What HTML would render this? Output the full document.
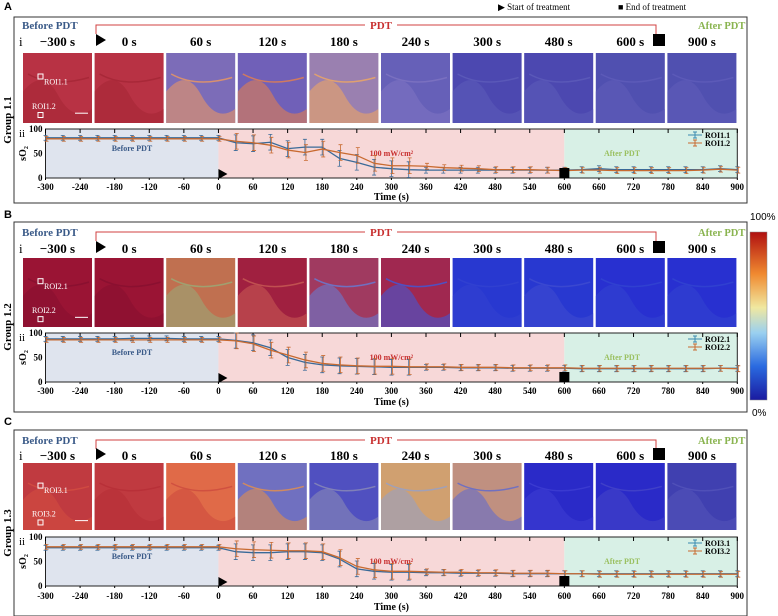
<!DOCTYPE html>
<html><head><meta charset="utf-8"><style>
body{margin:0;background:#fff;width:778px;height:616px;overflow:hidden}
svg{display:block;font-family:"Liberation Serif",serif}
</style></head><body>
<svg id="s" width="778" height="616" viewBox="0 0 778 616" xmlns="http://www.w3.org/2000/svg">
<defs>
<linearGradient id="cb" x1="0" y1="1" x2="0" y2="0">
<stop offset="0" stop-color="#1a1aa0"/><stop offset="0.2" stop-color="#2a6ae0"/><stop offset="0.4" stop-color="#9ad0f0"/><stop offset="0.55" stop-color="#f0e8a0"/><stop offset="0.75" stop-color="#f08a30"/><stop offset="1" stop-color="#b01010"/>
</linearGradient>
</defs>
<g font-family="Liberation Sans,sans-serif" font-size="9" fill="#000">
<text x="4" y="10" font-weight="bold" font-size="11">A</text>
<text x="4" y="218" font-weight="bold" font-size="11">B</text>
<text x="4" y="425" font-weight="bold" font-size="11">C</text>
</g>
<text x="498" y="10" font-size="9">▶  Start of treatment</text>
<text x="618" y="10" font-size="9">■  End of treatment</text>
<rect x="750" y="232" width="17" height="168" fill="url(#cb)" stroke="#888" stroke-width="0.5"/>
<text x="750" y="220" font-size="10" font-family="Liberation Sans,sans-serif">100%</text>
<text x="752" y="416" font-size="10" font-family="Liberation Sans,sans-serif">0%</text>
</svg>
<script>
const S=document.getElementById('s');let h='';
const X=t=>45.5+(t+300)*0.5765;
const P=[
{box:[14,17,733,186],hdr:29,lab:46,img:[53,123],pl:[129,178],tl:190,tt:200,g:'Group 1.1',r:['ROI1.1','ROI1.2'],
 cols:[['#b83244','#a82838'],['#b83244','#a82838'],['#7c6cb8','#d89070'],['#7060b8','#d07a60'],['#9a80b0','#e0a070'],['#6660b8','#7a70c0'],['#4c48b0','#5a58b8'],['#4c48b0','#5a58b8'],['#5050b0','#5c5ab8'],['#5050b0','#5c5ab8']],
 a:[82,82,82,82,82,82,82,82,82,82,82,72,70,73,60,63,63,40,32,22,19,17,16,16,16,16,16,16,16,16,16,17,19,17,17,17,17,17,17,19,17],
 b:[80,80,80,80,80,80,80,80,80,80,80,75,72,67,57,52,59,52,46,30,25,25,24,21,20,19,17,17,17,16,15,16,16,15,15,15,15,15,16,18,16]},
{box:[14,222,733,190],hdr:236,lab:253,img:[258,327],pl:[333,382],tl:394,tt:405,g:'Group 1.2',r:['ROI2.1','ROI2.2'],
 cols:[['#9a1434','#8a1030'],['#9a1434','#8a1030'],['#c07050','#a0a070'],['#a02040','#c05050'],['#a03a60','#7070c0'],['#a02850','#5050c0'],['#2838d0','#3040d0'],['#2838d0','#3a48d0'],['#2830d0','#3040d0'],['#2830d0','#3040d0']],
 a:[88,88,88,88,88,89,89,89,88,88,88,85,80,70,50,40,35,33,32,31,30,30,30,30,29,29,29,28,28,28,28,27,27,27,27,27,27,27,27,28,28],
 b:[86,86,86,86,86,86,86,86,86,86,86,84,78,65,55,45,38,35,33,32,32,31,31,31,30,30,30,29,29,29,29,28,28,28,28,28,28,28,28,28,27]},
{box:[14,430,733,186],hdr:444,lab:460,img:[463,530],pl:[537,586],tl:599,tt:610,g:'Group 1.3',r:['ROI3.1','ROI3.2'],
 cols:[['#c03a40','#d04a40'],['#c03a40','#b83038'],['#e06a48','#d05040'],['#7070c0','#d08a60'],['#5050c0','#8080b8'],['#d0a070','#a0a0b8'],['#c09080','#7070c0'],['#2a2ac8','#3a3ad0'],['#2a2ac8','#4040c8'],['#4040b0','#5050b8']],
 a:[78,78,78,78,78,78,78,78,78,78,78,70,68,68,70,70,68,55,35,30,28,28,27,27,26,26,26,25,25,25,25,25,25,25,25,25,25,25,25,25,25],
 b:[80,80,80,80,80,80,80,80,80,80,80,76,74,73,72,72,70,58,40,33,30,30,29,28,28,27,27,26,26,26,25,25,24,24,24,24,24,24,24,24,24]}
];
const labs=['−300 s','0 s','60 s','120 s','180 s','240 s','300 s','480 s','600 s','900 s'];
P.forEach((p,pi)=>{
 const [bx,by,bw,bh]=p.box;
 h+=`<rect x="${bx}" y="${by}" width="${bw}" height="${bh}" fill="none" stroke="#333" stroke-width="1"/>`;
 h+=`<text x="22" y="${p.hdr}" font-size="11" font-weight="bold" fill="#3a5a88">Before PDT</text>`;
 h+=`<text x="698" y="${p.hdr}" font-size="10.5" font-weight="bold" fill="#8ab450">After PDT</text>`;
 h+=`<path d="M96 ${p.hdr+5} V${p.hdr-4} H365 M397 ${p.hdr-4} H656 V${p.hdr+5}" stroke="#d04040" fill="none" stroke-width="1"/>`;
 h+=`<text x="381" y="${p.hdr}" font-size="11" font-weight="bold" fill="#c83030" text-anchor="middle">PDT</text>`;
 h+=`<text x="19" y="${p.lab}" font-size="13">i</text>`;
 h+=`<path d="M96 ${p.lab-12} L106 ${p.lab-6} L96 ${p.lab} Z"/>`;
 h+=`<rect x="653" y="${p.lab-12}" width="12" height="12"/>`;
 for(let i=0;i<10;i++){const x=23+i*71.6,c=p.cols[i],y=p.img[0],H=p.img[1]-y;
  h+=`<rect x="${x}" y="${y}" width="69" height="${H}" fill="${c[0]}"/>`;
  h+=`<path d="M${x} ${y+H*0.55} Q${x+20} ${y+H*0.2} ${x+35} ${y+H*0.6} T${x+69} ${y+H*0.8} V${y+H} H${x} Z" fill="${c[1]}" opacity="0.7"/>`;
  h+=`<path d="M${x+5} ${y+H*0.3} Q${x+30} ${y+H*0.5} ${x+66} ${y+H*0.35}" stroke="${c[1]}" stroke-width="1.5" fill="none"/>`;
  h+=`<text x="${x+34.5}" y="${p.lab}" font-size="13" font-weight="bold" text-anchor="middle">${labs[i]}</text>`;}
 const y0=p.img[0],H=p.img[1]-y0;
 h+=`<rect x="38" y="${y0+H*0.3}" width="5" height="5" fill="none" stroke="#fff"/><text x="44" y="${y0+H*0.45}" font-size="8" fill="#fff">${p.r[0]}</text>`;
 h+=`<rect x="38" y="${y0+H*0.85}" width="5" height="5" fill="none" stroke="#fff"/><text x="32" y="${y0+H*0.8}" font-size="8" fill="#fff">${p.r[1]}</text>`;
 h+=`<line x1="75" x2="88" y1="${y0+H*0.86}" y2="${y0+H*0.86}" stroke="#fff"/>`;
 h+=`<text transform="translate(11 ${(by+bh/2)+10}) rotate(-90)" font-size="11" font-weight="bold" text-anchor="middle">${p.g}</text>`;
 const [pt,pb]=p.pl,Y=v=>pb-(pb-pt)*v/100;
 h+=`<rect x="${X(-300)}" y="${pt}" width="${X(0)-X(-300)}" height="${pb-pt}" fill="#dfe4ee"/>`;
 h+=`<rect x="${X(0)}" y="${pt}" width="${X(600)-X(0)}" height="${pb-pt}" fill="#f7d8d8"/>`;
 h+=`<rect x="${X(600)}" y="${pt}" width="${X(900)-X(600)}" height="${pb-pt}" fill="#d8f0e6"/>`;
 h+=`<text x="${X(-150)}" y="${Y(55)}" font-size="8" font-weight="bold" fill="#3a5a88" text-anchor="middle">Before PDT</text>`;
 h+=`<text x="${X(300)}" y="${Y(45)}" font-size="8" font-weight="bold" fill="#c83030" text-anchor="middle">100 mW/cm²</text>`;
 h+=`<text x="${X(700)}" y="${Y(45)}" font-size="8" font-weight="bold" fill="#9ac060" text-anchor="middle">After PDT</text>`;
 h+=`<rect x="${X(-300)}" y="${pt}" width="${X(900)-X(-300)}" height="${pb-pt}" fill="none" stroke="#222" stroke-width="1"/>`;
 for(let t=-300;t<=900;t+=60){h+=`<line x1="${X(t)}" x2="${X(t)}" y1="${pt}" y2="${pt+4}" stroke="#000"/><line x1="${X(t)}" x2="${X(t)}" y1="${pb}" y2="${pb+2}" stroke="#000"/>`;
  h+=`<text x="${X(t)}" y="${p.tl}" font-size="9" font-weight="bold" text-anchor="middle">${t}</text>`;}
 [0,50,100].forEach(v=>h+=`<text x="${X(-300)-3}" y="${Y(v)+3}" font-size="9" font-weight="bold" text-anchor="end">${v}</text>`);
 h+=`<text transform="translate(26 ${(pt+pb)/2}) rotate(-90)" font-size="10" font-weight="bold" text-anchor="middle">sO₂</text>`;
 h+=`<text x="19" y="${pt+8}" font-size="11">ii</text>`;
 h+=`<text x="${X(300)}" y="${p.tt}" font-size="10" font-weight="bold" text-anchor="middle">Time (s)</text>`;
 [[p.a,'#3a6a98'],[p.b,'#c86a30']].forEach(([d,c],k)=>{
  let pts=d.map((v,i)=>`${X(-300+i*30)},${Y(v)}`).join(' ');
  h+=`<polyline points="${pts}" fill="none" stroke="${c}" stroke-width="1.3"/>`;
  d.forEach((v,i)=>{const x=X(-300+i*30)+(k?1:0),e=(i>10&&i<22)?16:(i>=22?6:5);
   h+=`<path d="M${x} ${Y(Math.min(100,v+e))} V${Y(Math.max(0,v-e))} M${x-2} ${Y(Math.min(100,v+e))} h4 M${x-2} ${Y(Math.max(0,v-e))} h4" stroke="${c}" stroke-width="0.8"/>`;});
 });
 h+=`<path d="M${X(0)} ${pb-9} L${X(0)+9} ${pb-4} L${X(0)} ${pb+1} Z"/>`;
 h+=`<rect x="${X(600)-5}" y="${pb-10}" width="10" height="10"/>`;
 h+=`<path d="M688 ${pt+6} h14 M695 ${pt+3} v6 M693 ${pt+3} h4 M693 ${pt+9} h4" stroke="#3a8ab0"/><text x="705" y="${pt+9}" font-size="8" font-weight="bold">${p.r[0]}</text>`;
 h+=`<path d="M688 ${pt+14} h14 M695 ${pt+11} v6 M693 ${pt+11} h4 M693 ${pt+17} h4" stroke="#c86a30"/><text x="705" y="${pt+17}" font-size="8" font-weight="bold">${p.r[1]}</text>`;
});
S.insertAdjacentHTML('beforeend',h);
</script>
</body></html>
